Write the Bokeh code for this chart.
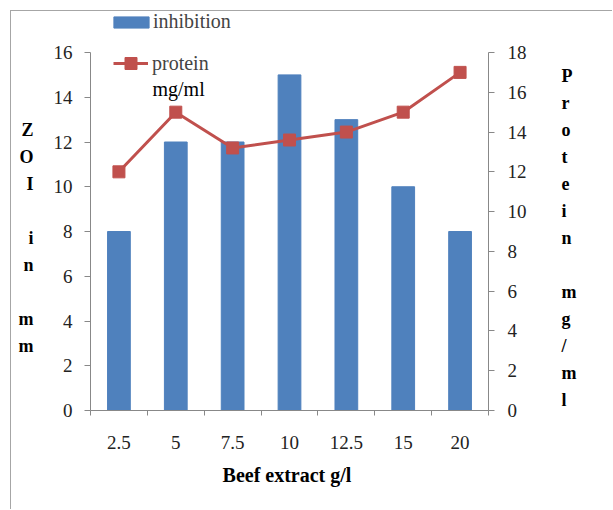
from bokeh.plotting import figure
from bokeh.models import (Range1d, LinearAxis, FixedTicker, Label, Legend,
                          LegendItem, ColumnDataSource)
from bokeh.embed import file_html
from bokeh.resources import INLINE

# Beef extract concentration (g/l) and the two measured responses
categories = ["2.5", "5", "7.5", "10", "12.5", "15", "20"]
inhibition = [8, 12, 12, 15, 13, 10, 8]                 # ZOI in mm
protein = [12.0, 15.0, 13.2, 13.6, 14.0, 15.0, 17.0]    # protein mg/ml

left_ticks = list(range(0, 17, 2))
right_ticks = list(range(0, 19, 2))

BLUE = "#4F81BD"
RED = "#C0504D"
AXIS = "#888888"
FONT = "Liberation Serif"

# page geometry (px): chart box offset, frame edges
OX, OY = 11, 11
W, H = 613, 510
FL, FR, FB = 90, 488, 410
AX_TOP = 52                                  # where the value axes end

px_per_left = (FB - AX_TOP) / left_ticks[-1]
px_per_right = (FB - AX_TOP) / right_ticks[-1]
px_per_cat = (FR - FL) / len(categories)

xc = [i + 0.5 for i in range(len(categories))]
src = ColumnDataSource(dict(xc=xc, inhibition=inhibition, protein=protein))

p = figure(width=W - OX, height=H - OY, output_backend="svg", toolbar_location=None,
           x_range=Range1d(0, len(categories)),
           y_range=Range1d(0, (FB - OY) / px_per_left),
           min_border_left=FL - OX, min_border_right=W - FR,
           min_border_top=0, min_border_bottom=H - FB,
           styles={"margin-left": f"{OX - 1}px", "margin-top": f"{OY - 1}px",
                   "border-left": "1px solid #a6a6a6",
                   "border-top": "1px solid #a6a6a6"})
p.extra_y_ranges = {"protein": Range1d(0, (FB - OY) / px_per_right)}
p.outline_line_color = None
p.xgrid.visible = False
p.ygrid.visible = False
p.background_fill_color = "white"
p.border_fill_color = "white"

bars = p.vbar(x="xc", top="inhibition", width=0.4, source=src,
              fill_color=BLUE, line_color=BLUE)
line = p.line(x="xc", y="protein", source=src, y_range_name="protein",
              line_color=RED, line_width=3)
marks = p.scatter(x="xc", y="protein", source=src, y_range_name="protein",
                  marker="square", size=12, fill_color=RED, line_color=RED)

def style_axis(ax):
    ax.axis_line_color = AXIS
    ax.major_tick_line_color = AXIS
    ax.minor_tick_line_color = AXIS
    ax.major_label_text_font = FONT
    ax.major_label_text_font_size = "19px"
    ax.major_label_text_color = "#222222"
    ax.major_tick_in = 0
    ax.minor_tick_in = 0
    ax.axis_label_text_font = FONT
    ax.axis_label_text_font_style = "bold"
    ax.axis_label_text_color = "black"

def stacked(words, pad=2):
    # one letter per line, a blank line between words; leading blanks
    # lower the block so that it sits beside the value axis
    lines = [" "] * pad
    for i, w in enumerate(words):
        if i:
            lines.append(" ")
        lines.extend(list(w))
    return "\n".join(lines)

# category axis: labels centred on bars, ticks on the boundaries
xa = p.xaxis[0]
style_axis(xa)
xa.ticker = FixedTicker(ticks=xc, minor_ticks=list(range(len(categories) + 1)))
xa.major_label_overrides = {x: c for x, c in zip(xc, categories)}
xa.major_tick_out = 0
xa.minor_tick_out = 5
xa.major_label_standoff = 20
xa.axis_label = "Beef extract  g/l"
xa.axis_label_text_font_size = "20px"
xa.axis_label_standoff = 12

ya = p.yaxis[0]
style_axis(ya)
ya.bounds = (left_ticks[0], left_ticks[-1])
ya.ticker = FixedTicker(ticks=left_ticks, minor_ticks=[])
ya.major_tick_out = 6
ya.minor_tick_out = 0
ya.major_label_standoff = 12
ya.axis_label = stacked(["ZOI", "in", "mm"])
ya.axis_label_orientation = "horizontal"
ya.axis_label_text_font_size = "18px"
ya.axis_label_text_line_height = 1.35
ya.axis_label_standoff = 17

ra = LinearAxis(y_range_name="protein")
style_axis(ra)
ra.bounds = (right_ticks[0], right_ticks[-1])
ra.ticker = FixedTicker(ticks=right_ticks, minor_ticks=[])
ra.major_tick_out = 6
ra.minor_tick_out = 0
ra.major_label_standoff = 13
ra.axis_label = stacked(["Protein", "mg/ml"])
ra.axis_label_orientation = "horizontal"
ra.axis_label_text_font_size = "18px"
ra.axis_label_text_line_height = 1.35
ra.axis_label_standoff = 32
p.add_layout(ra, "right")

def legend_at(items, left, bottom, gw, gh, standoff):
    lg = Legend(items=items, location=(left - FL, FB - bottom),
                glyph_width=gw, glyph_height=gh, label_standoff=standoff,
                padding=0, margin=0, spacing=0,
                border_line_alpha=0, background_fill_alpha=0,
                label_text_font=FONT, label_text_font_size="20px",
                label_height=20)
    p.add_layout(lg, "center")

legend_at([LegendItem(label="inhibition", renderers=[bars])], 109, 33, 44, 14, 0)
legend_at([LegendItem(label="protein", renderers=[line, marks])], 113, 78, 35, 30, 4)

# second line of the protein legend entry
p.add_layout(Label(x=(152 - FL) / px_per_cat, y=(FB - 88) / px_per_left,
                   text="mg/ml", text_font=FONT, text_font_size="20px",
                   text_align="left", text_baseline="middle", text_color="black"))

open("out.html", "w").write(file_html(p, INLINE))
